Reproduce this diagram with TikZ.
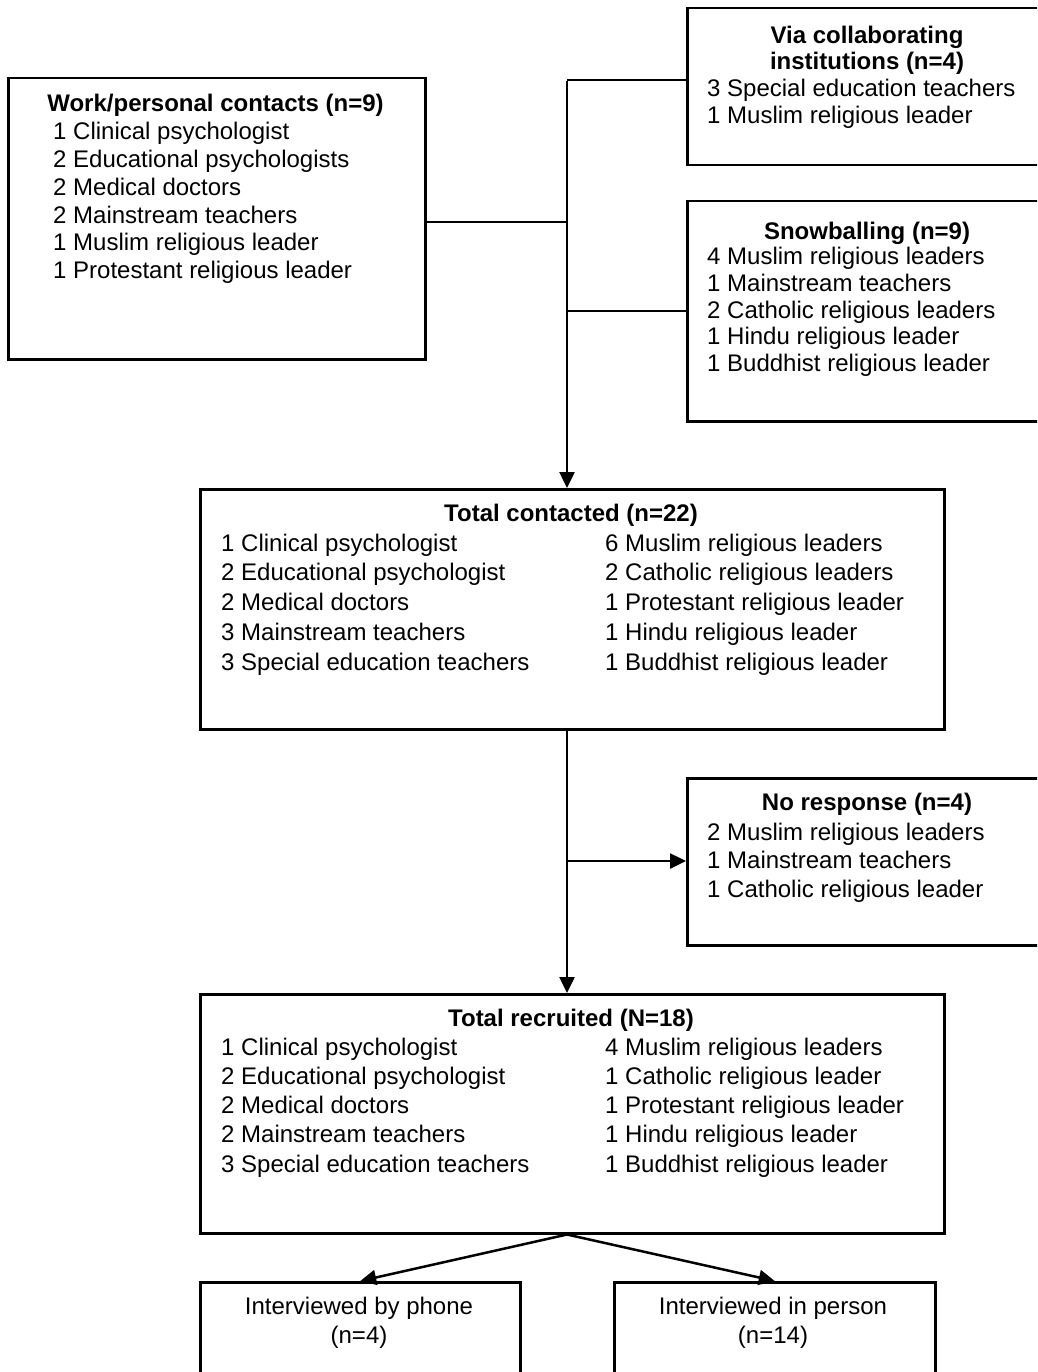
\documentclass[tikz,border=0pt]{standalone}
\usepackage{fontspec}
\setmainfont{Liberation Sans}
\usetikzlibrary{arrows.meta}
\newcommand{\leftrows}[1]{\begin{tabular}[t]{@{}l@{}}#1\end{tabular}}
\newcommand{\midrows}[1]{\begin{tabular}[t]{@{}c@{}}#1\end{tabular}}
\begin{document}
\begin{tikzpicture}[x=1pt,y=-1pt,
  box/.style={draw, line width=2.5pt, inner sep=0pt, anchor=north west},
  conn/.style={line width=2.5pt},
  arr/.style={line width=2.5pt, -{Triangle[length=16pt,width=15pt]}},
  txtb/.style={font=\fontsize{24}{#1}\selectfont, inner sep=0pt},
  ttlb/.style={font=\fontsize{24}{#1}\selectfont\bfseries, inner sep=0pt, anchor=base}
]
\useasboundingbox (0,0) rectangle (1037,1372);
\fill[white] (0,0) rectangle (1037,1372);
\clip (0,0) rectangle (1037,1372);

% boxes
\node[box, minimum width=417pt, minimum height=281pt] (work) at (7,77) {};
\node[box, minimum width=362pt, minimum height=157pt] (via) at (686,7) {};
\node[box, minimum width=362pt, minimum height=220pt] (snow) at (686,200) {};
\node[box, minimum width=744pt, minimum height=240pt] (tc) at (199,488) {};
\node[box, minimum width=362pt, minimum height=167pt] (nr) at (686,777) {};
\node[box, minimum width=744pt, minimum height=239pt] (tr) at (199,993) {};
\node[box, minimum width=320pt, minimum height=140pt] (phone) at (199,1281) {};
\node[box, minimum width=321pt, minimum height=140pt] (person) at (613,1281) {};

% texts
\node[ttlb=27.7] (workT) at (215.5,112) {Work/personal contacts (n=9)};
\node[txtb=27.7, anchor=base west] (workL) at (53,140) {\leftrows{1 Clinical psychologist\\2 Educational psychologists\\2 Medical doctors\\2 Mainstream teachers\\1 Muslim religious leader\\1 Protestant religious leader}};

\node[ttlb=26.5, anchor=base] (viaT) at (867,43.5) {\midrows{Via collaborating\\institutions (n=4)}};
\node[txtb=27, anchor=base west] (viaL) at (707,97) {\leftrows{3 Special education teachers\\1 Muslim religious leader}};

\node[ttlb=27] (snowT) at (867,240) {Snowballing (n=9)};
\node[txtb=27, anchor=base west] (snowL) at (707,264) {\leftrows{4 Muslim religious leaders\\1 Mainstream teachers\\2 Catholic religious leaders\\1 Hindu religious leader\\1 Buddhist religious leader}};

\node[ttlb=29.75] (tcT) at (571,521) {Total contacted (n=22)};
\node[txtb=29.75, anchor=base west] (tcL) at (221,551) {\leftrows{1 Clinical psychologist\\2 Educational psychologist\\2 Medical doctors\\3 Mainstream teachers\\3 Special education teachers}};
\node[txtb=29.75, anchor=base west] (tcR) at (605,551) {\leftrows{6 Muslim religious leaders\\2 Catholic religious leaders\\1 Protestant religious leader\\1 Hindu religious leader\\1 Buddhist religious leader}};

\node[ttlb=28.7] (nrT) at (867,810) {No response (n=4)};
\node[txtb=28.7, anchor=base west] (nrL) at (707,840) {\leftrows{2 Muslim religious leaders\\1 Mainstream teachers\\1 Catholic religious leader}};

\node[ttlb=29.3] (trT) at (571,1026) {Total recruited (N=18)};
\node[txtb=29.3, anchor=base west] (trL) at (221,1055) {\leftrows{1 Clinical psychologist\\2 Educational psychologist\\2 Medical doctors\\2 Mainstream teachers\\3 Special education teachers}};
\node[txtb=29.3, anchor=base west] (trR) at (605,1055) {\leftrows{4 Muslim religious leaders\\1 Catholic religious leader\\1 Protestant religious leader\\1 Hindu religious leader\\1 Buddhist religious leader}};

\node[txtb=29, anchor=base] (phoneT) at (359,1314) {\midrows{Interviewed by phone\\(n=4)}};
\node[txtb=29, anchor=base] (personT) at (773,1314) {\midrows{Interviewed in person\\(n=14)}};

% connectors
\coordinate (j1) at (567,80);
\coordinate (j2) at (567,222);
\coordinate (j3) at (567,311);
\coordinate (j4) at (567,861);
\draw[conn] (j1) -- (via.west |- j1);
\draw[conn] (work.east |- j2) -- (j2);
\draw[conn] (j3) -- (snow.west |- j3);
\draw[arr] ([yshift=-1.25pt]j1) -- (tc.north -| j1);
\draw[arr] (tc.south -| j1) -- (tr.north -| j1);
\draw[arr] (j4) -- (nr.west |- j4);
\coordinate (j5) at (tr.south -| j1);
\draw[arr] (j5) -- (phone.north);
\draw[arr] (j5) -- (person.north);
\end{tikzpicture}
\end{document}
